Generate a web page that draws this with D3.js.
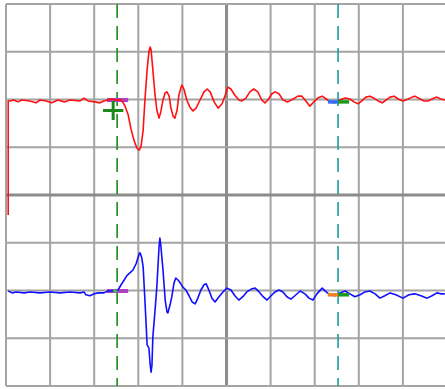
<!DOCTYPE html>
<html><head><meta charset="utf-8">
<script src="https://cdn.jsdelivr.net/npm/d3@7"></script>
<style>html,body{margin:0;padding:0;background:#fff;overflow:hidden}svg{display:block}</style>
</head><body>
<script>
// ---- data (time in divisions, voltage in divisions relative to channel ground) ----
const xGridTicks = [0,1,2,3,4,5,6,7,8,9,10];
const yGridTicks = [-4,-3,-2,-1,0,1,2,3,4];
const channelOffset = {red: 1.99, blue: -2.03};
const cursorTimes = [2.52, 7.53];

const redTime = [0.05,0.05,0.09,0.18,0.27,0.36,0.54,0.68,0.77,0.91,1.04,1.18,1.32,1.45,1.68,1.77,1.86,2.02,2.13,2.22,2.31,2.40,2.49,2.59,2.63,
 2.70,2.77,2.83,2.90,2.97,3.02,3.06,3.11,3.15,3.20,3.24,3.27,3.29,3.33,3.38,3.42,3.47,3.51,3.56,3.61,3.65,3.70,3.74,3.79,3.83,3.88,3.92,3.97,3.99,
 4.04,4.10,4.17,4.24,4.31,4.40,4.49,4.56,4.63,4.72,4.81,4.90,4.97,5.03,5.10,5.19,5.28,5.35,5.44,5.53,5.62,5.71,5.80,5.87,5.94,6.03,6.10,6.19,6.28,
 6.39,6.51,6.62,6.71,6.80,6.89,6.98,7.07,7.17,7.26,7.35,7.46,7.57,7.69,7.80,7.89,7.98,8.07,8.16,8.25,8.34,8.44,8.53,8.62,8.71,8.80,8.89,9.00,9.12,
 9.21,9.27,9.39,9.48,9.57,9.66,9.77,9.86,9.95];
const redVolt = [-2.41,-0.02,-0.02,0,-0.04,0,-0.02,-0.06,0,-0.02,-0.06,0,-0.04,0,-0.02,0.04,-0.02,-0.04,-0.06,-0.02,0,0.02,0,0,-0.02,
 -0.13,-0.31,-0.59,-0.84,-1.01,-1.05,-0.98,-0.63,0,0.63,1.01,1.11,1.05,0.63,0.10,-0.21,-0.38,-0.25,0,0.15,0.17,0.08,-0.17,-0.34,-0.38,-0.21,0.10,0.27,0.31,
 0.21,0,-0.15,-0.23,-0.17,0,0.17,0.23,0.17,-0.04,-0.17,-0.08,0.10,0.27,0.23,0.10,0,-0.02,0.04,0.17,0.23,0.17,0,-0.06,0,0.13,0.17,0.13,0,
 -0.04,0.02,0.08,0.08,-0.02,-0.13,-0.04,0.04,0.08,0.02,-0.04,-0.06,0,0.04,0.02,-0.04,-0.08,-0.02,0.06,0.08,0.04,-0.02,-0.06,0,0.06,0.08,0.02,-0.02,0.02,
 0.06,0.08,0.02,-0.02,-0.02,0.02,0.06,0.02,0];

const blueTime = [0.05,0.14,0.23,0.41,0.54,0.77,1.00,1.22,1.45,1.68,1.77,1.81,1.90,2.00,2.09,2.22,2.31,2.40,2.49,2.54,2.61,2.68,2.74,2.81,2.88,2.95,
 3.02,3.04,3.08,3.11,3.15,3.20,3.24,3.27,3.29,3.31,3.33,3.38,3.42,3.47,3.49,3.51,3.56,3.61,3.65,3.67,3.72,3.76,3.81,3.85,3.90,3.95,4.01,4.08,4.15,
 4.22,4.29,4.35,4.42,4.49,4.54,4.60,4.67,4.74,4.83,4.92,5.01,5.10,5.19,5.28,5.37,5.46,5.56,5.65,5.74,5.83,5.92,6.01,6.10,6.19,6.28,6.37,6.46,6.55,
 6.67,6.78,6.87,6.96,7.05,7.17,7.26,7.35,7.46,7.57,7.69,7.80,7.91,8.03,8.14,8.25,8.37,8.48,8.59,8.71,8.84,9.00,9.14,9.27,9.41,9.55,9.66,9.77,9.86,9.95];
const blueVolt = [0.02,-0.02,0,-0.02,0,-0.02,0,-0.02,0,-0.02,0,-0.06,-0.08,-0.04,-0.02,-0.02,0.02,0.02,0.02,0.04,0.15,0.25,0.34,0.40,0.46,0.59,
 0.80,0.82,0.71,0.52,-0.17,-1.11,-1.17,-1.53,-1.68,-1.53,-0.94,-0.38,0.10,0.94,1.13,0.98,0.46,-0.17,-0.42,-0.44,-0.27,-0.10,0.19,0.29,0.25,0.19,0.10,0.04,-0.08,
 -0.21,-0.25,-0.13,0.04,0.15,0.17,0.04,-0.13,-0.21,-0.10,0,0.08,0.04,-0.08,-0.17,-0.10,0,0.06,0.08,0,-0.10,-0.17,-0.08,0,0.04,0,-0.10,-0.15,-0.08,
 0.02,-0.04,-0.13,-0.17,-0.04,0.08,0,-0.06,-0.08,-0.02,0.02,-0.04,-0.10,-0.06,0,0.02,-0.04,-0.13,-0.08,-0.02,-0.06,-0.13,-0.06,-0.04,-0.08,-0.13,-0.08,-0.02,-0.04,-0.04];

// cursor / marker annotations (time span, voltage relative to channel)
const startMarkers = [{ch:"red", t0:2.29, t1:2.77, v:0.0, color:"#b040c0"},{ch:"blue", t0:2.29, t1:2.77, v:0.02, color:"#b040c0"}];
const endMarkers = [
  {ch:"red", t0:7.30, t1:7.53, v:-0.04, color:"#3070ff"},{ch:"red", t0:7.53, t1:7.78, v:-0.04, color:"#1a9a1a"},
  {ch:"blue", t0:7.30, t1:7.53, v:-0.06, color:"#f08020"},{ch:"blue", t0:7.53, t1:7.78, v:-0.06, color:"#1a9a1a"}];
const crossMarker = {ch:"red", t:2.43, v:-0.22, dt:0.23, dv:0.2};

// ---- drawing ----
const W = 445, H = 389;
const x = d3.scaleLinear().domain([0,10]).range([6,447]);
const y = d3.scaleLinear().domain([-4,4]).range([386,4]);
const svg = d3.select("body").append("svg").attr("width",W).attr("height",H);
svg.append("rect").attr("width",W).attr("height",H).attr("fill","#fff");

const grid = svg.append("g");
grid.selectAll("line.v").data(xGridTicks).join("line")
  .attr("x1",d=>x(d)).attr("x2",d=>x(d)).attr("y1",y(4)).attr("y2",y(-4))
  .attr("stroke",d=>d===5?"#8c8c8c":"#a4a4a4").attr("stroke-width",d=>d===5?3:2);
grid.selectAll("line.h").data(yGridTicks).join("line")
  .attr("y1",d=>y(d)).attr("y2",d=>y(d)).attr("x1",x(0)).attr("x2",x(10))
  .attr("stroke",d=>d===0?"#8c8c8c":"#a4a4a4").attr("stroke-width",d=>d===0?3:2);

// cursors
svg.append("line").attr("x1",x(cursorTimes[0])).attr("x2",x(cursorTimes[0])).attr("y1",y(4)).attr("y2",y(-4))
  .attr("stroke","#1f8a1f").attr("stroke-width",1.6).attr("stroke-dasharray","14,8");
svg.append("line").attr("x1",x(cursorTimes[1])).attr("x2",x(cursorTimes[1])).attr("y1",y(4)).attr("y2",y(-4))
  .attr("stroke","#1a9e9e").attr("stroke-width",1.6).attr("stroke-dasharray","14,8");

const line = off => d3.line().x(d=>x(d[0])).y(d=>y(d[1]+off));
const redData = redTime.map((t,i)=>[t,redVolt[i]]);
const blueData = blueTime.map((t,i)=>[t,blueVolt[i]]);

// start markers
svg.selectAll("line.sm").data(startMarkers).join("line")
  .attr("x1",d=>x(d.t0)).attr("x2",d=>x(d.t1)).attr("y1",d=>y(d.v+channelOffset[d.ch])).attr("y2",d=>y(d.v+channelOffset[d.ch]))
  .attr("stroke",d=>d.color).attr("stroke-width",4);

svg.append("path").datum(redData).attr("d",line(channelOffset.red))
  .attr("fill","none").attr("stroke","#ff1010").attr("stroke-width",1.6).attr("stroke-linejoin","round");
svg.append("path").datum(blueData).attr("d",line(channelOffset.blue))
  .attr("fill","none").attr("stroke","#1010ff").attr("stroke-width",1.6).attr("stroke-linejoin","round");

svg.selectAll("line.em").data(endMarkers).join("line")
  .attr("x1",d=>x(d.t0)).attr("x2",d=>x(d.t1)).attr("y1",d=>y(d.v+channelOffset[d.ch])).attr("y2",d=>y(d.v+channelOffset[d.ch]))
  .attr("stroke",d=>d.color).attr("stroke-width",3.5);

// crosshair
const cm = crossMarker, cy = crossMarker.v + channelOffset[crossMarker.ch];
svg.append("line").attr("x1",x(cm.t-cm.dt)).attr("x2",x(cm.t+cm.dt)).attr("y1",y(cy)).attr("y2",y(cy))
  .attr("stroke","#1a8a1a").attr("stroke-width",3);
svg.append("line").attr("x1",x(cm.t)).attr("x2",x(cm.t)).attr("y1",y(cy+cm.dv)).attr("y2",y(cy-cm.dv))
  .attr("stroke","#1a8a1a").attr("stroke-width",3);
// small green mark on blue channel start marker
svg.append("line").attr("x1",x(2.43)).attr("x2",x(2.52)).attr("y1",y(0.02+channelOffset.blue)).attr("y2",y(0.02+channelOffset.blue))
  .attr("stroke","#40c040").attr("stroke-width",3);
</script>
</body></html>
